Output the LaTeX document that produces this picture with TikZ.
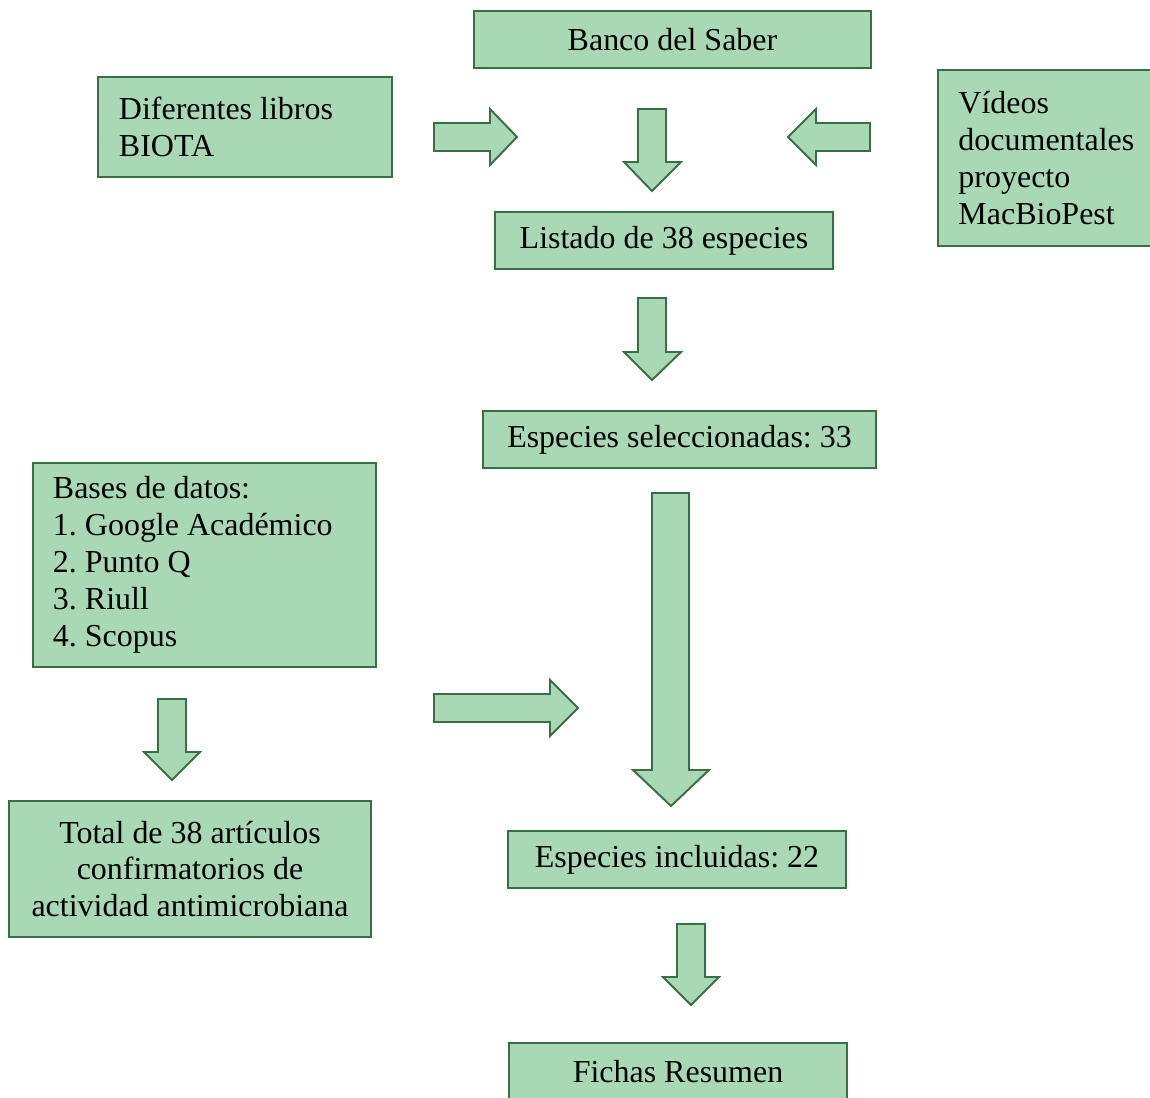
\documentclass[tikz,border=0pt]{standalone}
\usepackage{fontspec}
\setmainfont{Liberation Serif}
\definecolor{boxfill}{RGB}{169,216,181}
\definecolor{boxline}{RGB}{58,110,68}
\begin{document}
\frenchspacing
\begin{tikzpicture}[x=0.02cm,y=-0.02cm,
  box/.style={draw=boxline,fill=boxfill,line width=1.1pt,inner sep=0pt,
    font=\fontsize{18.2}{21}\selectfont\frenchspacing,align=center},
  lbox/.style={box,align=flush left,inner xsep=0.41cm},
  barrow/.style={draw=boxline,fill=boxfill,line width=1.1pt,line join=miter}]
\useasboundingbox (0,0) rectangle (1150,1098);
% boxes
\node[box,minimum width=7.94cm,minimum height=1.14cm] (banco) at (672.5,39.5) {Banco del Saber};
\node[lbox,anchor=north west,minimum width=5.88cm,minimum height=2cm,text width=5.04cm] (libros) at (97,76) {Diferentes libros\\BIOTA};
\node[lbox,anchor=north west,minimum width=4.36cm,minimum height=3.52cm,text width=3.9cm] (videos) at (937,69) {Vídeos\\documentales\\proyecto\\MacBioPest};
\node[box,minimum width=6.76cm,minimum height=1.14cm] (listado) at (664,240.5) {Listado de 38 especies};
\node[box,minimum width=7.86cm,minimum height=1.14cm] (selec) at (679.5,439.5) {Especies seleccionadas: 33};
\node[lbox,anchor=north west,minimum width=6.86cm,minimum height=4.08cm,text width=6.06cm,inner xsep=0.4cm] (bases) at (32,462) {Bases de datos:\\1. Google Académico\\2. Punto Q\\3. Riull\\4. Scopus};
\node[box,minimum width=7.24cm,minimum height=2.72cm] (total) at (190,869) {Total de 38 artículos\\confirmatorios de\\actividad antimicrobiana};
\node[box,minimum width=6.76cm,minimum height=1.14cm] (incl) at (677,859.5) {Especies incluidas: 22};
\node[box,minimum width=6.76cm,minimum height=1.14cm] (fichas) at (678,1071.5) {Fichas Resumen};
% block arrows
\draw[barrow] (434,123)--(490,123)--(490,109)--(517,137)--(490,165)--(490,151)--(434,151)--cycle;
\draw[barrow] (638,109)--(666,109)--(666,162)--(681,162)--(652,191)--(624,162)--(638,162)--cycle;
\draw[barrow] (870,123)--(816,123)--(816,109)--(788,137)--(816,165)--(816,151)--(870,151)--cycle;
\draw[barrow] (638,298)--(666,298)--(666,352)--(681,352)--(652,380)--(624,352)--(638,352)--cycle;
\draw[barrow] (652,493)--(689,493)--(689,770)--(709,770)--(671,806)--(633,770)--(652,770)--cycle;
\draw[barrow] (434,694)--(550,694)--(550,680)--(578,708)--(550,736)--(550,722)--(434,722)--cycle;
\draw[barrow] (158,699)--(186,699)--(186,752)--(200,752)--(172,780)--(144,752)--(158,752)--cycle;
\draw[barrow] (677,924)--(705,924)--(705,977)--(719,977)--(691,1005)--(663,977)--(677,977)--cycle;
\end{tikzpicture}
\end{document}
